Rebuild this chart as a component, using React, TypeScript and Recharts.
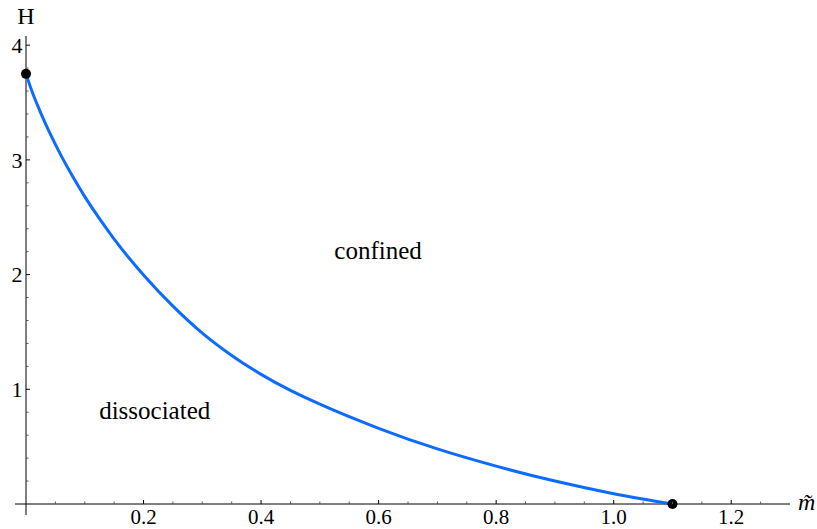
import React from 'react';
import { LineChart, Line, XAxis, YAxis, ReferenceLine, ReferenceDot } from 'recharts';

// curve: m-tilde vs H
const mValues = [0, 0.01, 0.025, 0.04, 0.06, 0.08, 0.1, 0.125, 0.15, 0.175, 0.2, 0.25, 0.3, 0.35, 0.4, 0.45, 0.5, 0.6, 0.7, 0.8, 0.9, 1.0, 1.1];
const hValues = [3.75, 3.6, 3.41, 3.24, 3.035, 2.85, 2.68, 2.487, 2.31, 2.147, 1.997, 1.725, 1.49, 1.295, 1.13, 0.99, 0.87, 0.66, 0.48, 0.33, 0.2, 0.09, 0];

// end points
const endPointsM = [0, 1.1];
const endPointsH = [3.75, 0];

// ticks
const xTicks = [0.05, 0.1, 0.15, 0.2, 0.25, 0.3, 0.35, 0.4, 0.45, 0.5, 0.55, 0.6, 0.65, 0.7, 0.75, 0.8, 0.85, 0.9, 0.95, 1.0, 1.05, 1.1, 1.15, 1.2, 1.25];
const xMajorTicks = [0.2, 0.4, 0.6, 0.8, 1.0, 1.2];
const xMajorLabels = ['0.2', '0.4', '0.6', '0.8', '1.0', '1.2'];
const yTicks = [0.2, 0.4, 0.6, 0.8, 1.0, 1.2, 1.4, 1.6, 1.8, 2.0, 2.2, 2.4, 2.6, 2.8, 3.0, 3.2, 3.4, 3.6, 3.8, 4.0];
const yMajorTicks = [1, 2, 3, 4];
const yMajorLabels = ['1', '2', '3', '4'];

// region annotations
const regionLabels = ['confined', 'dissociated'];
const regionM = [0.599, 0.219];
const regionH = [2.14, 0.74];

const xDomain: [number, number] = [0, 1.3];
const yDomain: [number, number] = [0, 4.08];
const xAxisExtent = [-0.0187, 1.3];
const yAxisExtent = [-0.096, 4.08];

const FONT = 'Liberation Serif';
const LINE_COLOR = '#0d6cff';

const data = mValues.map((m, i) => ({ m, h: hValues[i] }));

const findLabel = (v: number, majors: number[], labels: string[]) => {
  const idx = majors.findIndex((t) => Math.abs(t - v) < 1e-6);
  return idx >= 0 ? labels[idx] : null;
};

const XTick = (props: any) => {
  const { x, y, payload } = props;
  const label = findLabel(payload.value, xMajorTicks, xMajorLabels);
  return (
    <g>
      <line x1={x} x2={x} y1={y} y2={y - (label ? 4 : 2.5)} stroke={label ? '#000' : '#555'} strokeWidth={1} />
      {label && (
        <text x={x} y={y + 20} textAnchor="middle" fontFamily={FONT} fontSize={21} fill="#000">
          {label}
        </text>
      )}
    </g>
  );
};

const YTick = (props: any) => {
  const { x, y, payload } = props;
  const label = findLabel(payload.value, yMajorTicks, yMajorLabels);
  return (
    <g>
      <line x1={x} x2={x + (label ? 4 : 2.5)} y1={y} y2={y} stroke={label ? '#000' : '#555'} strokeWidth={1} />
      {label && (
        <text x={x - 3.5} y={y + 7.8} textAnchor="end" fontFamily={FONT} fontSize={22} fill="#000">
          {label}
        </text>
      )}
    </g>
  );
};

const TextMark = (text: string) => (props: any) => (
  <text x={props.cx} y={props.cy} textAnchor="middle" fontFamily={FONT} fontSize={25} fill="#000">
    {text}
  </text>
);

export default function App() {
  return (
    <div style={{ position: 'absolute', left: 0, top: 0, width: 817, height: 529, background: '#fff', fontFamily: FONT }}>
      <LineChart width={817} height={529} data={data} margin={{ top: 36, right: 27, bottom: 0, left: 0 }} style={{ fontFamily: FONT }}>
        <XAxis
          dataKey="m"
          type="number"
          domain={xDomain}
          ticks={xTicks}
          interval={0}
          height={25}
          tickSize={0}
          tickMargin={0}
          tickLine={false}
          axisLine={false}
          tick={XTick}
          label={{
            content: (p: any) => {
              const vb = p.viewBox;
              return (
                <text x={vb.x + vb.width + 8} y={vb.y + 6} fontFamily={FONT} fontStyle="italic" fontSize={24} fill="#000">
                  {'m\u0303'}
                </text>
              );
            },
          }}
        />
        <YAxis
          type="number"
          domain={yDomain}
          ticks={yTicks}
          interval={0}
          width={26}
          tickSize={0}
          tickMargin={0}
          tickLine={false}
          axisLine={false}
          tick={YTick}
          label={{
            content: (p: any) => {
              const vb = p.viewBox;
              return (
                <text x={vb.x + vb.width} y={vb.y - 12} textAnchor="middle" fontFamily={FONT} fontSize={24} fill="#000">
                  H
                </text>
              );
            },
          }}
        />
        <ReferenceLine
          segment={[{ x: xAxisExtent[0], y: 0 }, { x: xAxisExtent[1], y: 0 }]}
          stroke="#000"
          strokeWidth={1}
          ifOverflow="visible"
        />
        <ReferenceLine
          segment={[{ x: 0, y: yAxisExtent[0] }, { x: 0, y: yAxisExtent[1] }]}
          stroke="#000"
          strokeWidth={1}
          ifOverflow="visible"
        />
        <Line
          type="monotone"
          dataKey="h"
          stroke={LINE_COLOR}
          strokeWidth={3}
          dot={false}
          activeDot={false}
          isAnimationActive={false}
        />
        {endPointsM.map((m, i) => (
          <ReferenceDot key={'p' + i} x={m} y={endPointsH[i]} r={5} fill="#000" stroke="none" ifOverflow="visible" />
        ))}
        {regionLabels.map((t, i) => (
          <ReferenceDot key={'t' + i} x={regionM[i]} y={regionH[i]} r={0} ifOverflow="visible" shape={TextMark(t)} />
        ))}
      </LineChart>
    </div>
  );
}
